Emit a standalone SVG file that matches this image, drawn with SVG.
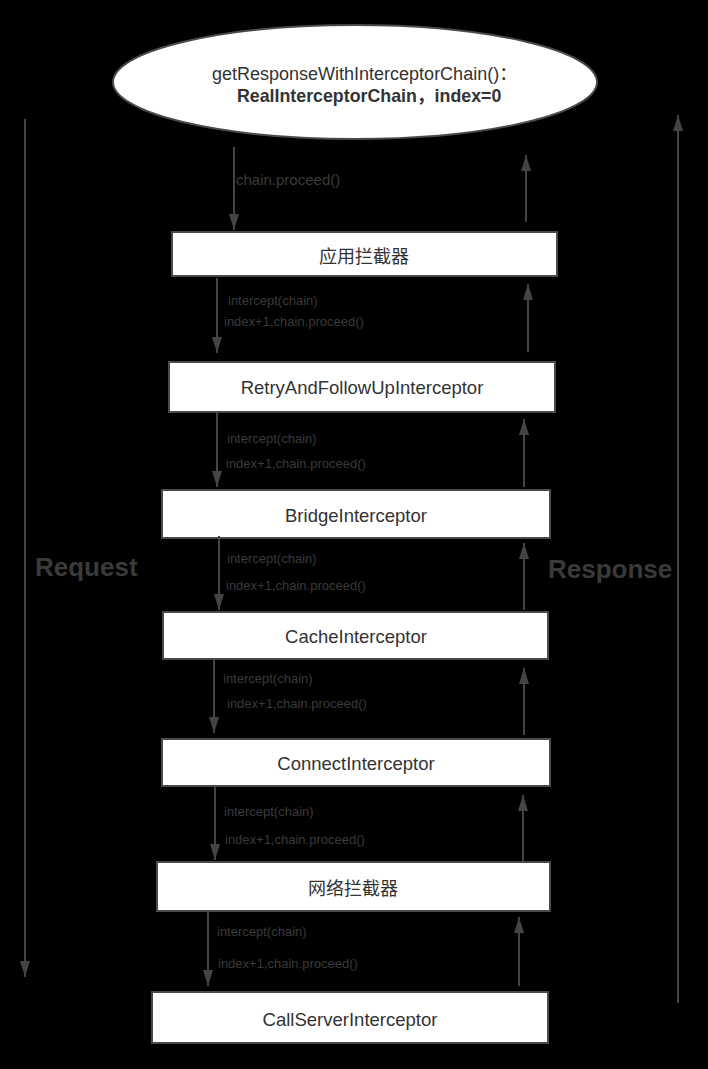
<svg xmlns="http://www.w3.org/2000/svg" width="708" height="1069" viewBox="0 0 708 1069">
<style>
.bg{fill:#000}
.box{fill:#fff;stroke:#4a4a4a;stroke-width:2}
.bt{font-family:"Liberation Sans","Noto Sans CJK SC",sans-serif;font-size:18.5px;fill:#333;text-anchor:middle}
.cj{font-family:"Noto Sans CJK SC","Liberation Sans",sans-serif;font-size:18px;fill:#333;text-anchor:middle}
.lbl{font-family:"Liberation Sans",sans-serif;font-size:13px;fill:#3a3a3a}
.lbl2{font-family:"Liberation Sans",sans-serif;font-size:15px;fill:#3a3a3a}
.big{font-family:"Liberation Sans",sans-serif;font-size:26px;font-weight:bold;fill:#3a3a3a}
.top{font-family:"Liberation Sans","Noto Sans CJK SC",sans-serif;font-size:18px;fill:#333}
.ln{stroke:#444;stroke-width:2;fill:none}
</style>
<defs>
<marker id="ah" viewBox="0 0 16 10" refX="16" refY="5" markerWidth="16" markerHeight="10" markerUnits="userSpaceOnUse" orient="auto">
<path d="M0,0 L16,5 L0,10 z" fill="#444"/>
</marker>
</defs>
<rect class="bg" x="0" y="0" width="708" height="1069"/>

<g id="start">
<ellipse cx="355" cy="82" rx="242" ry="57" fill="#fff" stroke="#4a4a4a" stroke-width="2"/>
<text class="top" x="212" y="80">getResponseWithInterceptorChain()：</text>
<text class="top" x="237" y="102" font-weight="bold" style="font-size:17.8px">RealInterceptorChain，index=0</text>
</g>

<g id="n1"><rect class="box" x="172" y="232" width="385" height="44"/><text class="cj" x="364" y="263">应用拦截器</text></g>
<g id="n2"><rect class="box" x="169" y="362" width="386" height="50"/><text class="bt" x="362" y="394">RetryAndFollowUpInterceptor</text></g>
<g id="n3"><rect class="box" x="162" y="490" width="388" height="48"/><text class="bt" x="356" y="522">BridgeInterceptor</text></g>
<g id="n4"><rect class="box" x="163" y="612" width="385" height="47"/><text class="bt" x="356" y="643">CacheInterceptor</text></g>
<g id="n5"><rect class="box" x="162" y="739" width="388" height="47"/><text class="bt" x="356" y="770">ConnectInterceptor</text></g>
<g id="n6"><rect class="box" x="157" y="862" width="393" height="49"/><text class="cj" x="353" y="895">网络拦截器</text></g>
<g id="n7"><rect class="box" x="152" y="992" width="396" height="51"/><text class="bt" x="350" y="1026">CallServerInterceptor</text></g>

<g id="side-labels">
<text class="big" x="35" y="576">Request</text>
<text class="big" x="548" y="578">Response</text>
</g>

<g id="connectors">
<line class="ln" x1="25" y1="119" x2="25" y2="977" marker-end="url(#ah)"/>
<line class="ln" x1="678" y1="1003" x2="678" y2="115" marker-end="url(#ah)"/>

<line class="ln" x1="234" y1="147" x2="234" y2="230" marker-end="url(#ah)"/>
<line class="ln" x1="526" y1="222" x2="526" y2="155" marker-end="url(#ah)"/>

<line class="ln" x1="217" y1="278" x2="217" y2="353" marker-end="url(#ah)"/>
<line class="ln" x1="528" y1="352" x2="528" y2="284" marker-end="url(#ah)"/>

<line class="ln" x1="217" y1="413" x2="217" y2="487" marker-end="url(#ah)"/>
<line class="ln" x1="524" y1="487" x2="524" y2="419" marker-end="url(#ah)"/>

<line class="ln" x1="219" y1="536" x2="219" y2="610" marker-end="url(#ah)"/>
<line class="ln" x1="524" y1="610" x2="524" y2="543" marker-end="url(#ah)"/>

<line class="ln" x1="214" y1="660" x2="214" y2="733" marker-end="url(#ah)"/>
<line class="ln" x1="524" y1="735" x2="524" y2="668" marker-end="url(#ah)"/>

<line class="ln" x1="215" y1="787" x2="215" y2="860" marker-end="url(#ah)"/>
<line class="ln" x1="523" y1="862" x2="523" y2="795" marker-end="url(#ah)"/>

<line class="ln" x1="208" y1="912" x2="208" y2="986" marker-end="url(#ah)"/>
<line class="ln" x1="519" y1="986" x2="519" y2="917" marker-end="url(#ah)"/>

<text class="lbl2" x="236" y="185">chain.proceed()</text>

<text class="lbl" x="228" y="305">intercept(chain)</text>
<text class="lbl" x="224" y="326">index+1,chain.proceed()</text>

<text class="lbl" x="227" y="443">intercept(chain)</text>
<text class="lbl" x="226" y="468">index+1,chain.proceed()</text>

<text class="lbl" x="227" y="563">intercept(chain)</text>
<text class="lbl" x="226" y="590">index+1,chain.proceed()</text>

<text class="lbl" x="223" y="683">intercept(chain)</text>
<text class="lbl" x="227" y="708">index+1,chain.proceed()</text>

<text class="lbl" x="224" y="816">intercept(chain)</text>
<text class="lbl" x="225" y="844">index+1,chain.proceed()</text>

<text class="lbl" x="217" y="936">intercept(chain)</text>
<text class="lbl" x="218" y="968">index+1,chain.proceed()</text>
</g>
</svg>
